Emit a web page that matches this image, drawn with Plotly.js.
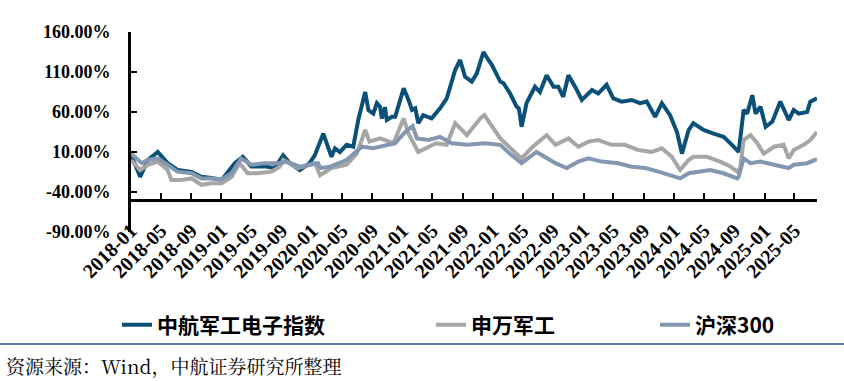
<!DOCTYPE html>
<html>
<head>
<meta charset="utf-8">
<script src="https://cdn.plot.ly/plotly-3.0.1.min.js"></script>
<style>
html,body{margin:0;padding:0;background:#fff;}
#chart{width:844px;height:381px;}
</style>
</head>
<body>
<div id="chart"></div>
<script>
// 中航军工电子指数
const datesA = ["2018-01-02","2018-02-07","2018-03-10","2018-04-19","2018-05-29","2018-07-08","2018-09-02","2018-10-12","2018-11-22","2019-01-02","2019-02-24","2019-03-28","2019-05-01","2019-06-24","2019-08-03","2019-09-07","2019-10-04","2019-11-13","2019-12-23","2020-01-13","2020-02-16","2020-03-01","2020-03-20","2020-04-03","2020-04-23","2020-05-20","2020-06-16","2020-07-06","2020-08-03","2020-08-16","2020-09-05","2020-09-19","2020-10-02","2020-10-09","2020-10-22","2020-10-29","2020-11-19","2020-12-02","2021-01-05","2021-01-25","2021-02-08","2021-02-21","2021-03-05","2021-03-25","2021-04-28","2021-06-01","2021-06-28","2021-08-01","2021-08-21","2021-09-10","2021-10-07","2021-10-27","2021-11-10","2021-11-23","2021-12-13","2021-12-27","2022-01-30","2022-02-12","2022-03-09","2022-04-06","2022-04-15","2022-04-26","2022-05-16","2022-06-19","2022-07-09","2022-08-05","2022-09-02","2022-09-21","2022-10-11","2022-11-01","2022-11-28","2022-12-25","2023-02-04","2023-03-01","2023-04-04","2023-05-01","2023-06-04","2023-07-14","2023-08-17","2023-09-13","2023-10-17","2023-11-13","2023-12-16","2024-01-13","2024-02-02","2024-02-29","2024-03-19","2024-04-29","2024-06-09","2024-07-19","2024-08-22","2024-09-18","2024-10-08","2024-10-22","2024-11-12","2024-11-25","2024-12-15","2025-01-05","2025-02-01","2025-03-05","2025-04-08","2025-04-28","2025-05-18","2025-06-21","2025-07-04","2025-07-31"];
const valuesA = [6,-21,0,10,-4,-12.5,-15,-21,-22.5,-25,-4,4,-8,-8,-10,6,-4,-12.5,-4,6,33,21,4,14.6,10,19,16.6,50,85,62.5,58,71,66.6,52,66,50,54,54,89.6,75,62.5,64.6,46,56,52,64.6,77,112.5,125,104,98,108,123,135,125,119,98,96,84,66.6,64.6,41.6,71,91.6,85,106,91.6,91.6,79,106,91.6,75,87.5,83,94,77,73,75,71,73,54,71,56,35,8,37.5,46,37.5,33,29,19,10,62.5,58,81,58,66.6,41.6,48,73,50,62.5,58,60,73,77];

// 申万军工
const datesB = ["2018-01-02","2018-02-07","2018-03-10","2018-04-19","2018-05-29","2018-06-13","2018-07-23","2018-09-02","2018-10-12","2018-11-22","2019-01-02","2019-02-11","2019-03-15","2019-04-17","2019-05-27","2019-07-22","2019-08-24","2019-09-07","2019-11-06","2020-01-13","2020-02-03","2020-03-20","2020-05-20","2020-06-30","2020-08-03","2020-08-20","2020-10-02","2020-11-25","2021-01-05","2021-01-25","2021-03-05","2021-04-01","2021-05-15","2021-06-28","2021-08-01","2021-09-17","2021-11-10","2021-11-27","2021-12-30","2022-01-30","2022-03-20","2022-04-26","2022-06-10","2022-08-05","2022-09-10","2022-11-01","2022-12-11","2023-01-21","2023-03-01","2023-04-24","2023-06-17","2023-08-10","2023-10-03","2023-11-13","2023-12-23","2024-01-26","2024-02-29","2024-03-19","2024-05-13","2024-07-05","2024-08-15","2024-09-12","2024-09-24","2024-10-08","2024-11-05","2024-12-02","2024-12-28","2025-02-08","2025-03-18","2025-04-08","2025-04-28","2025-06-07","2025-07-04","2025-07-31"];
const valuesB = [0,-12.5,-6,-2,-12.5,-25,-25,-23,-31,-29,-29,-21,-4,-16.6,-16.6,-14.6,-8.4,0,-10,-4,-19,-10,-6,8,37.5,23,27,21,52,33,10,14.6,21,19,46,31,52,56,41.6,27,12.5,2,16.6,31,19,27,16.6,23,25,19,19,12.5,10,14.6,4,-12.5,0,4,4,-2,-8,-14.6,-10,25,31,21,8,16.6,19,2,12.5,19,25,35];

// 沪深300
const datesC = ["2018-01-02","2018-02-13","2018-03-10","2018-04-19","2018-05-29","2018-07-08","2018-09-02","2018-10-12","2018-11-22","2019-01-02","2019-02-11","2019-03-21","2019-05-01","2019-06-24","2019-08-24","2019-09-20","2019-11-13","2020-01-26","2020-02-03","2020-03-14","2020-05-20","2020-06-30","2020-07-20","2020-09-05","2020-12-02","2021-01-12","2021-02-10","2021-02-28","2021-04-15","2021-06-01","2021-07-18","2021-09-17","2021-11-30","2022-01-30","2022-03-09","2022-04-26","2022-06-25","2022-09-10","2022-10-25","2022-12-11","2023-01-21","2023-03-15","2023-05-21","2023-07-14","2023-09-07","2023-10-30","2023-12-23","2024-01-26","2024-02-29","2024-04-02","2024-05-26","2024-07-19","2024-09-12","2024-09-18","2024-10-08","2024-11-05","2024-12-15","2025-02-08","2025-04-08","2025-04-28","2025-06-21","2025-07-31"];
const valuesC = [8,-4,0,2,-6,-14.6,-16.6,-23,-23,-24,-16.6,2,-6,-4,-4,-2,-8.4,-4,-10,-8.4,0,12,16.6,14.6,21,35,42.5,27,25,29,21,19,21,19,8,-4,10,-4,-10,-2,2,-2,-4,-8.4,-10,-14.6,-19,-23,-16.6,-14.6,-12.5,-16.6,-23,-21,2,-4,-2,-6,-10,-6,-4,1];

const seriesNames = ["中航军工电子指数","申万军工","沪深300"];
const yTickVals = [-90,-40,10,60,110,160];
const yTickText = ["-90.00%","-40.00%","10.00%","60.00%","110.00%","160.00%"];
const colors = ["#0B5078","#A6A6A6","#8497B0"];

const mk = (x,y,i,leg) => ({
  x:x, y:y, type:'scatter', mode:'lines', name:seriesNames[i],
  line:{color:colors[i], width:4}, legend:leg, hoverinfo:'skip'
});
const data = [mk(datesA,valuesA,0,'legend'), mk(datesB,valuesB,1,'legend2'), mk(datesC,valuesC,2,'legend3')];

const legFont = {family:'Noto Sans CJK SC, sans-serif', size:21, color:'#000', weight:700};
const legBase = {orientation:'h', xref:'container', yref:'container', yanchor:'middle', xanchor:'left', y:1-325/381, font:legFont, bgcolor:'rgba(0,0,0,0)', borderwidth:0};

const L=131, R=27, T=32, B=149;
const PW = 844-L-R, PH = 381-T-B;
const px2x = p => (p-L)/PW;
const py2y = p => (381-B-p)/PH;

const layout = {
  width:844, height:381,
  margin:{l:L, r:R, t:T, b:B, pad:0},
  paper_bgcolor:'#fff', plot_bgcolor:'#fff',
  showlegend:true,
  xaxis:{
    type:'date', range:['2018-01-01','2025-07-31'],
    tick0:'2018-01-01', dtick:'M4', tickformat:'%Y-%m', tickangle:-45,
    anchor:'free', position:0.16,
    showline:true, linecolor:'#000', linewidth:3,
    ticks:'inside', ticklen:6, tickwidth:2, tickcolor:'#000',
    showgrid:false, zeroline:false,
    ticklabelstandoff:9,
    tickfont:{family:'Liberation Serif, Times New Roman, serif', size:20, color:'#000', weight:700}
  },
  yaxis:{
    range:[-90,160], tickvals:yTickVals, ticktext:yTickText,
    showline:true, linecolor:'#000', linewidth:3,
    ticks:'inside', ticklen:6, tickwidth:2, tickcolor:'#000',
    showgrid:false, zeroline:false,
    ticklabelstandoff:14,
    tickfont:{family:'Liberation Serif, Times New Roman, serif', size:18, color:'#000', weight:700}
  },
  legend: Object.assign({}, legBase, {x:117/844}),
  legend2: Object.assign({}, legBase, {x:431/844}),
  legend3: Object.assign({}, legBase, {x:655/844}),
  shapes:[{type:'line', xref:'paper', yref:'paper', x0:px2x(0), x1:px2x(844), y0:py2y(344), y1:py2y(344), line:{color:'#1F4E8C', width:1.5}}],
  annotations:[{xref:'paper', yref:'paper', x:px2x(4), y:py2y(365), xanchor:'left', yanchor:'middle', showarrow:false,
    text:'资源来源：Wind，中航证券研究所整理', font:{family:'Noto Serif CJK SC, Noto Sans CJK SC, serif', size:19, color:'#000'}}]
};

Plotly.newPlot('chart', data, layout, {displayModeBar:false, staticPlot:true});
</script>
</body>
</html>
